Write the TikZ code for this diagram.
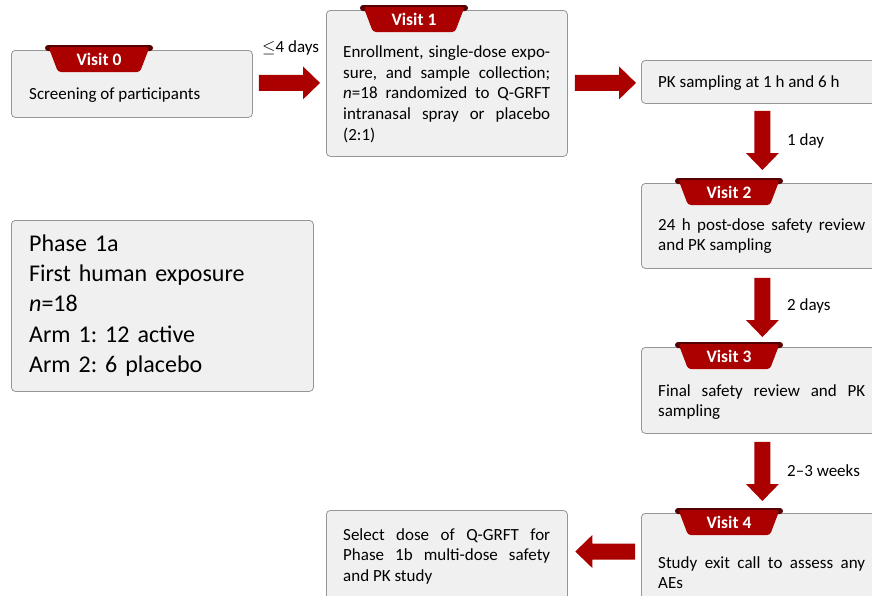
\documentclass[tikz,border=0pt]{standalone}
\usepackage{fontspec}
\setmainfont{Carlito}
\usetikzlibrary{calc}
\frenchspacing
\definecolor{tabred}{RGB}{170,0,0}
\definecolor{tabdark}{RGB}{85,0,0}
\definecolor{boxfill}{RGB}{240,240,240}
\definecolor{boxline}{RGB}{150,150,150}
\newcommand\bodyfont{\frenchspacing\fontsize{17}{20.6}\selectfont}
\newcommand\blockarrow[2]{%
  \coordinate (ba-h) at ($(#2)!17pt!(#1)$);
  \fill[tabred] ($(#1)!8pt!90:(#2)$) -- ($(ba-h)!8pt!-90:(#1)$) -- ($(ba-h)!16.5pt!-90:(#1)$) -- (#2)
    -- ($(ba-h)!16.5pt!90:(#1)$) -- ($(ba-h)!8pt!90:(#1)$) -- ($(#1)!8pt!-90:(#2)$) -- cycle;}
\newcommand\visittab[3]{%
  \coordinate (#2c) at ($(#1.north west)+(88,0)$);
  \fill[tabdark,rounded corners=3pt] ($(#2c)+(-54,-5)$) rectangle ($(#2c)+(54,1)$);
  \fill[tabred,rounded corners=3pt] ($(#2c)+(-50.5,-3)$) -- ($(#2c)+(50.5,-3)$) -- ($(#2c)+(41,22)$) -- ($(#2c)+(-41,22)$) -- cycle;
  \node[tabtext] (#2) at ($(#2c)+(0,15.5)$) {#3};}
\begin{document}
\begin{tikzpicture}[x=1pt,y=-1pt,
  box/.style={draw=boxline, fill=boxfill, rounded corners=4pt, line width=0.8pt, inner sep=0pt, anchor=north west},
  txt/.style={anchor=north west, inner sep=0pt, text width=207pt, align=justify, font=\bodyfont},
  lbl/.style={anchor=base west, inner sep=0pt, font=\bodyfont},
  tabtext/.style={anchor=base, inner sep=0pt, text=white, font=\bfseries\fontsize{17.5}{20}\selectfont}]
\path[use as bounding box] (0,0) rectangle (872,595);
\clip (0,0) rectangle (872,595);
\fill[white] (0,0) rectangle (872,595);
% boxes
\node[box, minimum width=241pt, minimum height=67pt] (v0) at (11,50) {};
\node[box, minimum width=241pt, minimum height=146pt] (v1) at (326,10) {};
\node[box, minimum width=241pt, minimum height=43pt] (pk) at (641,60) {};
\node[box, minimum width=241pt, minimum height=85pt] (v2) at (641,183) {};
\node[box, minimum width=241pt, minimum height=86pt] (v3) at (641,347) {};
\node[box, minimum width=241pt, minimum height=90pt] (v4) at (641,513) {};
\node[box, minimum width=241pt, minimum height=93pt] (sel) at (326,510) {};
\node[box, minimum width=302pt, minimum height=171pt] (ph) at (11,220) {};
% tabs
\visittab{v0}{tab0}{Visit 0}
\visittab{v1}{tab1}{Visit 1}
\visittab{v2}{tab2}{Visit 2}
\visittab{v3}{tab3}{Visit 3}
\visittab{v4}{tab4}{Visit 4}
% texts
\node[txt] (t0) at (29,84.6) {\strut Screening of participants};
\node[txt] (t1) at (343,43.1) {\strut Enrollment, single-dose expo-\linebreak sure, and sample collection;\linebreak \textit{n}=18 randomized to Q-GRFT\linebreak intranasal spray or placebo\linebreak (2:1)};
\node[txt] (tpk) at (658,72.6) {\strut PK sampling at 1 h and 6 h};
\node[txt] (t2) at (658,215.6) {\strut 24 h post-dose safety review\linebreak and PK sampling};
\node[txt] (t3) at (658,381.6) {\strut Final safety review and PK\linebreak sampling};
\node[txt] (t4) at (658,553.6) {\strut Study exit call to assess any\linebreak AEs};
\node[txt] (tsel) at (343,525.6) {\strut Select dose of Q-GRFT for\linebreak Phase 1b multi-dose safety\linebreak and PK study};
\node[anchor=north west, inner sep=0pt, text width=280pt, align=left, font=\frenchspacing\fontsize{24}{30.3}\selectfont] (tph) at (29,229.8)
  {\strut Phase 1a\\ First human exposure\\ \textit{n}=18\\ Arm 1: 12 active\\ Arm 2: 6 placebo};
% arrows
\coordinate (a1s) at ($(v0.east)+(6,-1)$);
\coordinate (a1e) at ($(v1.west |- a1s)+(-6,0)$);
\coordinate (a2s) at ($(v1.east)+(7,-0.5)$);
\coordinate (a2e) at ($(pk.west |- a2s)+(-5,0)$);
\coordinate (a3s) at ($(pk.south)+(0.5,7)$);
\coordinate (a3e) at ($(v2.north -| a3s)+(0,-13)$);
\coordinate (a4s) at ($(v2.south)+(0.5,9)$);
\coordinate (a4e) at ($(v3.north -| a4s)+(0,-10)$);
\coordinate (a5s) at ($(v3.south)+(0.5,8)$);
\coordinate (a5e) at ($(v4.north -| a5s)+(0,-12)$);
\coordinate (a6s) at ($(v4.north west)+(-6,38.5)$);
\coordinate (a6e) at ($(sel.east |- a6s)+(7.5,0)$);
\blockarrow{a1s}{a1e}
\blockarrow{a2s}{a2e}
\blockarrow{a3s}{a3e}
\blockarrow{a4s}{a4e}
\blockarrow{a5s}{a5e}
\blockarrow{a6s}{a6e}
% labels
\node[lbl] (l1) at (262,52) {$\leq$4 days};
\node[lbl] (l2) at (787,145) {1 day};
\node[lbl] (l3) at (787,310) {2 days};
\node[lbl] (l4) at (787,476) {2–3 weeks};
\end{tikzpicture}
\end{document}
